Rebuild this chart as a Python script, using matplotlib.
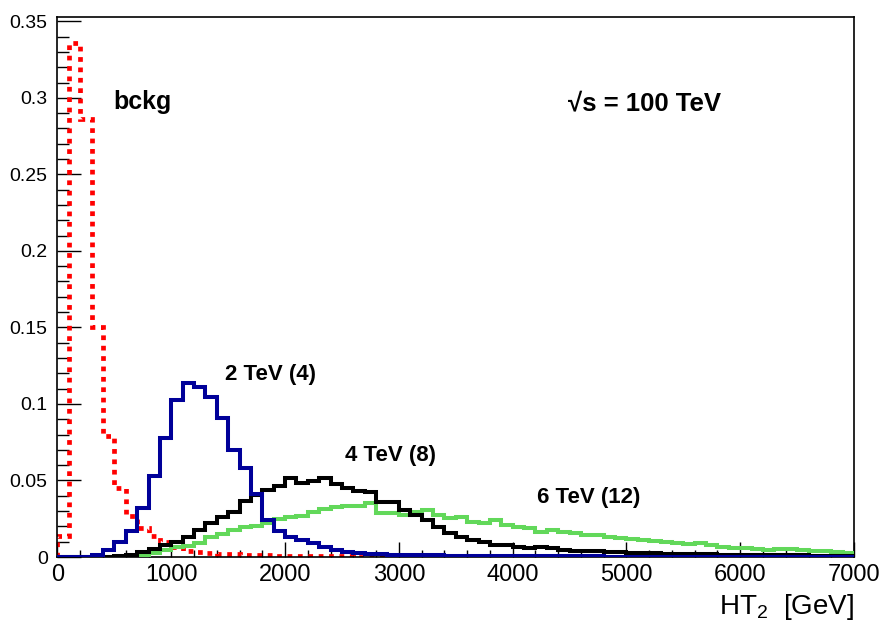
import numpy as np
import matplotlib.pyplot as plt
from matplotlib.ticker import MultipleLocator, FuncFormatter

plt.rcParams['font.family'] = ['Liberation Sans', 'DejaVu Sans']
plt.rcParams['mathtext.fontset'] = 'custom'
plt.rcParams['mathtext.rm'] = 'Liberation Sans'
plt.rcParams['mathtext.it'] = 'Liberation Sans'

# HT2 bins, 100 GeV wide, 0..7000 GeV
edges = np.arange(0, 7100, 100)

bckg = [0.0136, 0.336, 0.286, 0.150, 0.079, 0.045, 0.027, 0.019, 0.0135, 0.0095,
        0.0065, 0.0042, 0.0032, 0.0026, 0.0021, 0.0017, 0.0014, 0.0012, 0.0010, 0.0008,
        0.0007, 0.0006, 0.0005, 0.0005, 0.0004, 0.0004, 0.0003, 0.0003, 0.0003, 0.0002,
        0.0002, 0.0002, 0.0002, 0.0002, 0.0002, 0.0002, 0.0002, 0.0002, 0.0002, 0.0002,
        0.0001, 0.0001, 0.0001, 0.0001, 0.0001, 0.0001, 0.0001, 0.0001, 0.0001, 0.0001,
        0.0001, 0.0001, 0.0001, 0.0001, 0.0001, 0.0001, 0.0001, 0.0001, 0.0001, 0.0001,
        0.0001, 0.0001, 0.0001, 0.0001, 0.0001, 0.0001, 0.0001, 0.0001, 0.0001, 0.0001]

sig_2tev = [0.0, 0.0001, 0.0002, 0.0010, 0.0046, 0.0100, 0.0172, 0.0319, 0.0526, 0.0778,
            0.1029, 0.1134, 0.1112, 0.1047, 0.0909, 0.0701, 0.0581, 0.0410, 0.0245, 0.0170,
            0.0133, 0.0111, 0.0090, 0.0064, 0.0046, 0.0035, 0.0026, 0.0022, 0.0019, 0.0016,
            0.0014, 0.0012, 0.0011, 0.0010, 0.0009, 0.0008, 0.0008, 0.0007, 0.0007, 0.0006,
            0.0006, 0.0005, 0.0005, 0.0005, 0.0004, 0.0004, 0.0004, 0.0004, 0.0003, 0.0003,
            0.0003, 0.0003, 0.0003, 0.0003, 0.0002, 0.0002, 0.0002, 0.0002, 0.0002, 0.0002,
            0.0002, 0.0002, 0.0002, 0.0001, 0.0001, 0.0001, 0.0001, 0.0001, 0.0001, 0.0001]

sig_4tev = [0.0, 0.0, 0.0, 0.0001, 0.0002, 0.0005, 0.0013, 0.0030, 0.0052, 0.0079,
            0.0096, 0.0133, 0.0177, 0.0223, 0.0264, 0.0297, 0.0368, 0.0406, 0.0439, 0.0463,
            0.0516, 0.0483, 0.0496, 0.0519, 0.0475, 0.0450, 0.0428, 0.0422, 0.0362, 0.0362,
            0.0305, 0.0275, 0.0242, 0.0199, 0.0155, 0.0129, 0.0111, 0.0100, 0.0079, 0.0079,
            0.0067, 0.0057, 0.0067, 0.0057, 0.0045, 0.0040, 0.0040, 0.0037, 0.0033, 0.0030,
            0.0026, 0.0025, 0.0024, 0.0022, 0.0021, 0.0019, 0.0018, 0.0017, 0.0016, 0.0015,
            0.0014, 0.0013, 0.0012, 0.0011, 0.0011, 0.0010, 0.0009, 0.0008, 0.0008, 0.0007]

sig_6tev = [0.0, 0.0, 0.0, 0.0, 0.0, 0.0001, 0.0002, 0.0008, 0.0028, 0.0046,
            0.0067, 0.0075, 0.0090, 0.0128, 0.0150, 0.0177, 0.0199, 0.0205, 0.0222, 0.0248,
            0.0260, 0.0270, 0.0292, 0.0313, 0.0325, 0.0330, 0.0335, 0.0354, 0.0290, 0.0290,
            0.0275, 0.0297, 0.0308, 0.0275, 0.0254, 0.0264, 0.0231, 0.0225, 0.0242, 0.0210,
            0.0199, 0.0188, 0.0166, 0.0177, 0.0166, 0.0155, 0.0144, 0.0144, 0.0133, 0.0123,
            0.0116, 0.0111, 0.0103, 0.0097, 0.0090, 0.0085, 0.0090, 0.0079, 0.0066, 0.0060,
            0.0057, 0.0052, 0.0048, 0.0050, 0.0052, 0.0048, 0.0042, 0.0036, 0.0030, 0.0026]

labels = ['2 TeV (4)', '4 TeV (8)', '6 TeV (12)']
label_pos = [(1471, 0.1158), (2525, 0.0628), (4211, 0.0353)]

fig = plt.figure(figsize=(8.8, 6.25), dpi=100)
ax = fig.add_axes([0.0653, 0.1088, 0.9052, 0.864])

ax.stairs(bckg, edges, color='#ff0000', lw=3.4, ls=(0, (1, 1.2)), zorder=2)
ax.stairs(sig_6tev, edges, color='#62d85a', lw=2.9, zorder=3)
ax.stairs(sig_4tev, edges, color='black', lw=2.9, zorder=4)
ax.stairs(sig_2tev, edges, color='#000099', lw=2.9, zorder=5)

ax.set_xlim(0, 7000)
ax.set_ylim(0, 0.336 * 1.05)

ax.xaxis.set_major_locator(MultipleLocator(1000))
ax.xaxis.set_minor_locator(MultipleLocator(200))
ax.yaxis.set_major_locator(MultipleLocator(0.05))
ax.yaxis.set_minor_locator(MultipleLocator(0.01))
ax.yaxis.set_major_formatter(FuncFormatter(lambda v, p: f'{v:g}'))

ax.tick_params(axis='x', which='major', direction='in', length=11, width=1,
               labelsize=17, pad=5, top=False)
ax.tick_params(axis='x', which='minor', direction='in', length=5, width=1, top=False)
ax.tick_params(axis='y', which='major', direction='in', length=17, width=1,
               labelsize=14, pad=7, right=False)
ax.tick_params(axis='y', which='minor', direction='in', length=8.5, width=1, right=False)
for lab in ax.get_xticklabels():
    lab.set_family(['Liberation Sans Narrow', 'Liberation Sans'])
for s in ax.spines.values():
    s.set_linewidth(1.2)

ax.text(487, 0.293, 'bckg', fontsize=18, fontweight='bold', va='baseline')
for txt, (x, y) in zip(labels, label_pos):
    ax.text(x, y, txt, fontsize=16, fontweight='bold', va='baseline')
ax.text(4484, 0.2918, '\u221as = 100 TeV', fontsize=18.5, fontweight='bold', va='baseline')

fig.text(0.971, 0.0176, 'HT$_2$  [GeV]', ha='right', va='baseline', fontsize=20)

fig.savefig('out.png', dpi=100)
